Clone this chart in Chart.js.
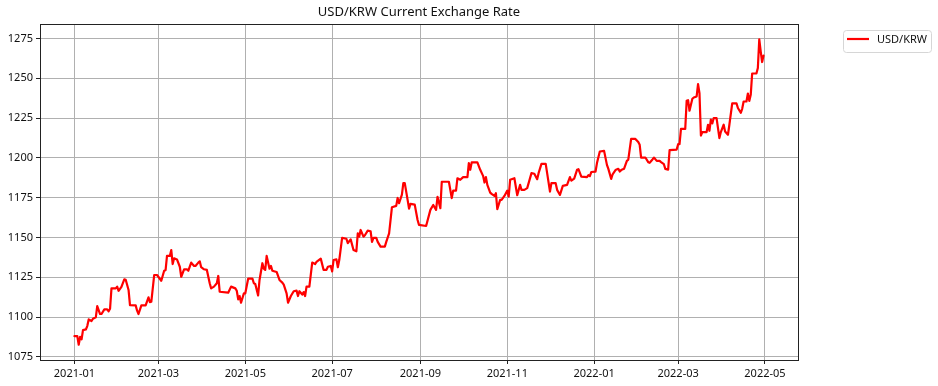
<!DOCTYPE html>
<html>
<head>
<meta charset="utf-8">
<script src="https://cdn.jsdelivr.net/npm/chart.js@4"></script>
<style>
    html, body { margin: 0; padding: 0; background: #fff; }
    #wrap { width: 938px; height: 386px; }
</style>
</head>
<body>
<div id="wrap"><canvas id="rateChart" width="938" height="386"></canvas></div>
<script>
// Dữ liệu tỷ giá
const dates = [
    '2021-01-01','2021-01-03','2021-01-04','2021-01-05','2021-01-06','2021-01-07','2021-01-09','2021-01-10','2021-01-11','2021-01-13',
    '2021-01-14','2021-01-16','2021-01-17','2021-01-19','2021-01-20','2021-01-22','2021-01-24','2021-01-25','2021-01-26','2021-01-27',
    '2021-01-30','2021-01-31','2021-02-01','2021-02-03','2021-02-05','2021-02-06','2021-02-08','2021-02-09','2021-02-13','2021-02-14',
    '2021-02-15','2021-02-17','2021-02-20','2021-02-22','2021-02-23','2021-02-24','2021-02-26','2021-02-28','2021-03-03','2021-03-05',
    '2021-03-06','2021-03-07','2021-03-09','2021-03-10','2021-03-11','2021-03-12','2021-03-14','2021-03-16','2021-03-17','2021-03-19',
    '2021-03-21','2021-03-22','2021-03-24','2021-03-26','2021-03-27','2021-03-29','2021-03-30','2021-03-31','2021-04-02','2021-04-04',
    '2021-04-06','2021-04-07','2021-04-09','2021-04-11','2021-04-12','2021-04-13','2021-04-19','2021-04-21','2021-04-24','2021-04-25',
    '2021-04-26','2021-04-27','2021-04-28','2021-04-30','2021-05-01','2021-05-03','2021-05-06','2021-05-07','2021-05-08','2021-05-10',
    '2021-05-11','2021-05-13','2021-05-14','2021-05-15','2021-05-16','2021-05-18','2021-05-19','2021-05-20','2021-05-23','2021-05-25',
    '2021-05-27','2021-05-28','2021-05-30','2021-05-31','2021-06-02','2021-06-04','2021-06-06','2021-06-07','2021-06-08','2021-06-10',
    '2021-06-11','2021-06-12','2021-06-13','2021-06-15','2021-06-17','2021-06-19','2021-06-20','2021-06-23','2021-06-25','2021-06-27',
    '2021-06-28','2021-06-30','2021-07-01','2021-07-02','2021-07-04','2021-07-05','2021-07-06','2021-07-08','2021-07-11','2021-07-12',
    '2021-07-14','2021-07-16','2021-07-18','2021-07-19','2021-07-20','2021-07-21','2021-07-23','2021-07-24','2021-07-26','2021-07-28',
    '2021-07-29','2021-07-30','2021-08-01','2021-08-02','2021-08-04','2021-08-07','2021-08-08','2021-08-10','2021-08-12','2021-08-15',
    '2021-08-16','2021-08-17','2021-08-19','2021-08-20','2021-08-21','2021-08-23','2021-08-24','2021-08-25','2021-08-28','2021-08-30',
    '2021-08-31','2021-09-05','2021-09-08','2021-09-10','2021-09-12','2021-09-13','2021-09-15','2021-09-16','2021-09-21','2021-09-23',
    '2021-09-24','2021-09-26','2021-09-27','2021-09-29','2021-10-01','2021-10-04','2021-10-05','2021-10-06','2021-10-07','2021-10-11',
    '2021-10-13','2021-10-15','2021-10-16','2021-10-17','2021-10-18','2021-10-20','2021-10-21','2021-10-23','2021-10-24','2021-10-25',
    '2021-10-27','2021-10-28','2021-10-30','2021-11-01','2021-11-02','2021-11-03','2021-11-06','2021-11-08','2021-11-10','2021-11-11',
    '2021-11-13','2021-11-15','2021-11-18','2021-11-20','2021-11-22','2021-11-23','2021-11-25','2021-11-28','2021-11-29','2021-12-01',
    '2021-12-02','2021-12-05','2021-12-06','2021-12-08','2021-12-10','2021-12-13','2021-12-15','2021-12-16','2021-12-18','2021-12-20',
    '2021-12-21','2021-12-23','2021-12-27','2021-12-28','2021-12-29','2021-12-30','2022-01-02','2022-01-03','2022-01-05','2022-01-08',
    '2022-01-10','2022-01-11','2022-01-13','2022-01-14','2022-01-16','2022-01-18','2022-01-19','2022-01-20','2022-01-22','2022-01-24',
    '2022-01-25','2022-01-27','2022-01-30','2022-02-01','2022-02-02','2022-02-03','2022-02-06','2022-02-08','2022-02-09','2022-02-11',
    '2022-02-12','2022-02-14','2022-02-16','2022-02-17','2022-02-19','2022-02-20','2022-02-22','2022-02-23','2022-02-28','2022-03-01',
    '2022-03-02','2022-03-03','2022-03-06','2022-03-07','2022-03-08','2022-03-09','2022-03-11','2022-03-12','2022-03-14','2022-03-15',
    '2022-03-16','2022-03-17','2022-03-18','2022-03-21','2022-03-22','2022-03-23','2022-03-24','2022-03-25','2022-03-26','2022-03-28',
    '2022-03-30','2022-03-31','2022-04-02','2022-04-03','2022-04-05','2022-04-06','2022-04-08','2022-04-11','2022-04-12','2022-04-14',
    '2022-04-15','2022-04-16','2022-04-18','2022-04-19','2022-04-20','2022-04-21','2022-04-22','2022-04-25','2022-04-26','2022-04-27',
    '2022-04-28','2022-04-29','2022-04-30'
];

const rates = [
    1088.0,1088.0,1082.6,1087.6,1086.0,1091.8,1092.2,1094.3,1098.5,1097.5,
    1098.9,1099.8,1106.9,1101.9,1101.9,1104.8,1104.8,1103.6,1105.2,1118.0,
    1118.0,1119.1,1116.5,1119.0,1123.7,1123.4,1117.0,1107.5,1107.3,1104.0,
    1101.9,1107.3,1107.3,1112.4,1109.4,1109.6,1126.4,1126.4,1122.8,1129.1,
    1129.4,1138.4,1138.4,1142.1,1133.3,1136.9,1136.2,1131.6,1125.3,1130.0,
    1130.0,1129.1,1134.2,1132.1,1132.1,1134.2,1135.0,1131.3,1130.0,1129.6,
    1121.2,1118.0,1119.1,1121.2,1125.8,1115.9,1115.3,1119.1,1118.0,1116.5,
    1111.1,1113.2,1109.0,1114.9,1114.9,1124.1,1124.1,1121.2,1120.8,1113.6,
    1123.3,1133.8,1130.4,1129.6,1138.4,1130.4,1132.1,1129.1,1128.3,1123.3,
    1121.6,1120.3,1114.9,1109.0,1113.2,1116.2,1116.6,1113.2,1116.2,1114.1,
    1115.7,1113.2,1119.1,1119.1,1134.2,1133.3,1134.6,1136.7,1129.6,1129.6,
    1131.6,1132.1,1128.7,1135.8,1136.2,1131.3,1135.8,1149.7,1149.2,1146.4,
    1148.8,1142.1,1141.3,1152.6,1150.5,1154.7,1150.5,1151.4,1154.3,1153.9,
    1147.2,1149.7,1149.7,1147.2,1144.2,1144.2,1147.2,1152.6,1169.0,1169.8,
    1174.8,1171.5,1176.9,1184.1,1184.1,1173.6,1168.1,1171.1,1170.6,1161.0,
    1157.9,1157.2,1167.3,1170.4,1167.3,1175.5,1168.4,1185.0,1185.0,1174.7,
    1179.4,1179.4,1187.2,1186.2,1187.9,1187.9,1196.7,1192.5,1197.1,1197.1,
    1192.5,1188.7,1184.5,1187.9,1183.0,1178.2,1177.4,1176.1,1177.8,1167.7,
    1173.6,1173.6,1176.1,1179.4,1175.7,1186.2,1187.2,1176.5,1183.0,1179.9,
    1179.9,1181.0,1190.4,1190.0,1186.6,1190.4,1196.2,1196.2,1190.4,1178.8,
    1184.1,1184.1,1179.9,1176.7,1182.4,1183.0,1187.9,1185.7,1187.0,1192.5,
    1192.9,1188.2,1187.9,1189.1,1188.5,1191.1,1191.4,1196.7,1204.0,1204.4,
    1195.6,1193.1,1186.8,1189.7,1192.3,1193.1,1191.4,1192.3,1193.1,1198.1,
    1198.9,1211.9,1211.9,1209.9,1208.2,1200.2,1200.2,1197.3,1196.9,1199.0,
    1200.2,1198.1,1198.1,1197.3,1196.0,1193.1,1192.6,1204.8,1205.2,1208.6,
    1208.6,1218.2,1218.2,1235.8,1236.2,1229.6,1237.1,1237.9,1238.6,1246.3,
    1240.7,1214.0,1216.2,1216.2,1220.8,1217.0,1224.1,1221.6,1225.0,1225.0,
    1212.4,1216.2,1220.8,1216.5,1214.5,1220.8,1234.2,1234.2,1231.3,1228.3,
    1230.8,1235.4,1235.4,1240.4,1235.8,1239.6,1253.0,1253.0,1256.4,1274.5,
    1266.9,1260.2,1264.3
];

// Nhãn trục
const xTickDates = ['2021-01-01','2021-03-01','2021-05-01','2021-07-01','2021-09-01','2021-11-01','2022-01-01','2022-03-01','2022-05-01'];
const xTickLabels = ['2021-01','2021-03','2021-05','2021-07','2021-09','2021-11','2022-01','2022-03','2022-05'];
const yTicks = [1075, 1100, 1125, 1150, 1175, 1200, 1225, 1250, 1275];

const chartTitle = 'USD/KRW Current Exchange Rate';
const seriesName = 'USD/KRW';

const FONT = "'Noto Sans', 'DejaVu Sans', sans-serif";

// Số ngày kể từ 2021-01-01
const BASE = Date.UTC(2021, 0, 1);
function toDay(s) {
    const p = s.split('-').map(Number);
    return (Date.UTC(p[0], p[1] - 1, p[2]) - BASE) / 86400000;
}

const points = dates.map((d, i) => ({ x: toDay(d), y: rates[i] }));
const xTickValues = xTickDates.map(toDay);

// Lề giống matplotlib (5%)
const xFirst = points[0].x, xLast = points[points.length - 1].x;
const xPad = (xLast - xFirst) * 0.05;
const yMinV = Math.min(...rates), yMaxV = Math.max(...rates);
const yPad = (yMaxV - yMinV) * 0.05;

// Vẽ khung, tiêu đề và chú thích
const framePlugin = {
    id: 'framePlugin',
    afterDraw(chart) {
        const { ctx, chartArea: a } = chart;
        ctx.save();
        ctx.strokeStyle = '#222';
        ctx.lineWidth = 1;
        ctx.strokeRect(Math.round(a.left) + 0.5, Math.round(a.top) + 0.5,
            Math.round(a.right - a.left), Math.round(a.bottom - a.top));

        ctx.fillStyle = '#111';
        ctx.font = '13px ' + FONT;
        ctx.textAlign = 'center';
        ctx.textBaseline = 'middle';
        ctx.fillText(chartTitle, (a.left + a.right) / 2, 12);

        // chú thích
        const lx = 843, ly = 30, lw = 88, lh = 22;
        ctx.beginPath();
        ctx.roundRect(lx + 0.5, ly + 0.5, lw, lh, 3);
        ctx.fillStyle = 'rgba(255,255,255,0.8)';
        ctx.fill();
        ctx.strokeStyle = '#d6d6d6';
        ctx.stroke();
        ctx.beginPath();
        ctx.moveTo(847, 39);
        ctx.lineTo(869, 39);
        ctx.strokeStyle = 'red';
        ctx.lineWidth = 2.2;
        ctx.stroke();
        ctx.fillStyle = '#111';
        ctx.font = '11px ' + FONT;
        ctx.textAlign = 'left';
        ctx.fillText(seriesName, 877, 39.5);
        ctx.restore();
    }
};

new Chart(document.getElementById('rateChart'), {
    type: 'line',
    data: {
        datasets: [{
            label: seriesName,
            data: points,
            borderColor: 'red',
            borderWidth: 2.2,
            borderJoinStyle: 'round',
            borderCapStyle: 'round',
            pointRadius: 0,
            tension: 0,
            fill: false
        }]
    },
    options: {
        responsive: false,
        animation: false,
        layout: { padding: { left: 0, right: 140, top: 24, bottom: 0 } },
        plugins: {
            legend: { display: false },
            title: { display: false },
            tooltip: { enabled: false }
        },
        scales: {
            x: {
                type: 'linear',
                min: xFirst - xPad,
                max: xLast + xPad,
                afterBuildTicks: (scale) => {
                    scale.ticks = xTickValues.map(v => ({ value: v }));
                },
                afterFit: (scale) => { scale.height = 26; },
                grid: { color: '#b0b0b0', lineWidth: 1, tickColor: '#222', tickLength: 4 },
                border: { display: false },
                ticks: {
                    autoSkip: false,
                    maxRotation: 0,
                    padding: 3,
                    color: '#111',
                    font: { family: FONT, size: 11 },
                    callback: (v) => {
                        const i = xTickValues.indexOf(v);
                        return i >= 0 ? xTickLabels[i] : '';
                    }
                }
            },
            y: {
                min: yMinV - yPad,
                max: yMaxV + yPad,
                afterBuildTicks: (scale) => {
                    scale.ticks = yTicks.map(v => ({ value: v }));
                },
                afterFit: (scale) => { scale.width = 40; },
                grid: { color: '#b0b0b0', lineWidth: 1, tickColor: '#222', tickLength: 4 },
                border: { display: false },
                ticks: {
                    autoSkip: false,
                    padding: 3,
                    color: '#111',
                    font: { family: FONT, size: 11 },
                    callback: (v) => String(v)
                }
            }
        }
    },
    plugins: [framePlugin]
});
</script>
</body>
</html>
